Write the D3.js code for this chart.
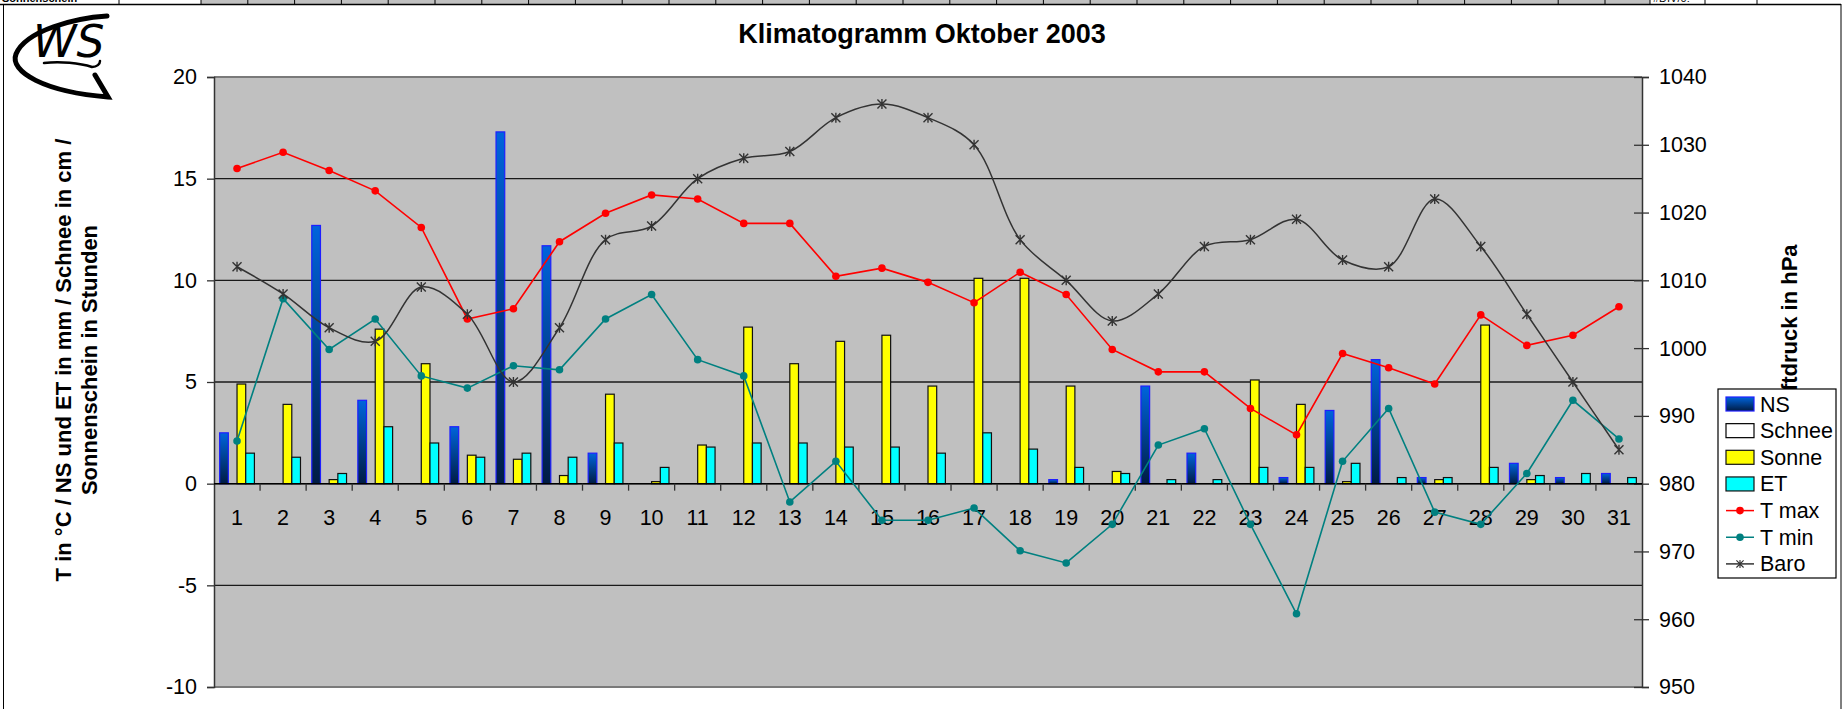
<!DOCTYPE html>
<html>
<head>
<meta charset="utf-8">
<script src="https://cdn.jsdelivr.net/npm/d3@7"></script>
<style>
body { margin: 0; background: #fff; overflow: hidden; }
svg { display: block; font-family: "Liberation Sans", Arial, sans-serif; }
</style>
</head>
<body>
<svg id="svg" width="1845" height="709"></svg>
<script>
// daily values, Oktober 2003
var days = [1,2,3,4,5,6,7,8,9,10,11,12,13,14,15,16,17,18,19,20,21,22,23,24,25,26,27,28,29,30,31];
var ns     = [2.5,0,12.7,4.1,0,2.8,17.3,11.7,1.5,0,0,0,0,0,0,0,0,0,0.2,0,4.8,1.5,0,0.3,3.6,6.1,0.3,0,1.0,0.3,0.5];
var schnee = [0,0,0,0,0,0,0,0,0,0,0,0,0,0,0,0,0,0,0,0,0,0,0,0,0,0,0,0,0,0,0];
var sonne  = [4.9,3.9,0.2,7.6,5.9,1.4,1.2,0.4,4.4,0.1,1.9,7.7,5.9,7.0,7.3,4.8,10.1,10.1,4.8,0.6,0,0,5.1,3.9,0.1,0,0.2,7.8,0.2,0,0];
var et     = [1.5,1.3,0.5,2.8,2.0,1.3,1.5,1.3,2.0,0.8,1.8,2.0,2.0,1.8,1.8,1.5,2.5,1.7,0.8,0.5,0.2,0.2,0.8,0.8,1.0,0.3,0.3,0.8,0.4,0.5,0.3];
var tmax   = [15.5,16.3,15.4,14.4,12.6,8.1,8.6,11.9,13.3,14.2,14.0,12.8,12.8,10.2,10.6,9.9,8.9,10.4,9.3,6.6,5.5,5.5,3.7,2.4,6.4,5.7,4.9,8.3,6.8,7.3,8.7];
var tmin   = [2.1,9.1,6.6,8.1,5.3,4.7,5.8,5.6,8.1,9.3,6.1,5.3,-0.9,1.1,-1.8,-1.8,-1.2,-3.3,-3.9,-2.0,1.9,2.7,-2.0,-6.4,1.1,3.7,-1.4,-2.0,0.5,4.1,2.2];
var baro   = [1012,1008,1003,1001,1009,1005,995,1003,1016,1018,1025,1028,1029,1034,1036,1034,1030,1016,1010,1004,1008,1015,1016,1019,1013,1012,1022,1015,1005,995,985];

var leftTicks = [-10,-5,0,5,10,15,20];
var rightTicks = [950,960,970,980,990,1000,1010,1020,1030,1040];
var barSeries = ['NS','Schnee','Sonne','ET'];

var svg = d3.select('svg');
var plotL = 214, plotR = 1642, plotT = 77, plotB = 687;
var fs = 21.5;
var plain = function(d){ return String(d); };   // keep "-5" and "1040" as in Excel

var x = d3.scaleBand().domain(days).range([plotL, plotR]).padding(0);
var xs = d3.scaleBand().domain(barSeries).range([0, x.bandwidth()]).paddingInner(0).paddingOuter(0.65);
var y = d3.scaleLinear().domain([-10, 20]).range([plotB, plotT]);
var y2 = d3.scaleLinear().domain([950, 1040]).range([plotB, plotT]);

var defs = svg.append('defs');
var grad = defs.append('linearGradient').attr('id','nsGrad').attr('x1',0).attr('y1',0).attr('x2',0).attr('y2',1);
grad.append('stop').attr('offset','0%').attr('stop-color','#0064dc');
grad.append('stop').attr('offset','100%').attr('stop-color','#001c44');
defs.append('clipPath').attr('id','strip').append('rect').attr('x',0).attr('y',0).attr('width',1845).attr('height',4);

// spreadsheet row peeking at the top
var strip = svg.append('g').attr('clip-path','url(#strip)');
strip.append('rect').attr('x',201).attr('y',0).attr('width',1449).attr('height',4).attr('fill','#c0c0c0');
d3.range(201, 1651, 46.8).forEach(function(cx){
    strip.append('line').attr('x1',cx).attr('x2',cx).attr('y1',0).attr('y2',4).attr('stroke','#000');
});
[119,1650,1705,1757].forEach(function(cx){
    strip.append('line').attr('x1',cx).attr('x2',cx).attr('y1',0).attr('y2',4).attr('stroke','#000');
});
strip.append('text').text('Sonnenschein').attr('x',2).attr('y',2).attr('font-size',11).attr('font-weight','bold');
strip.append('text').text('#DIV/0!').attr('x',1653).attr('y',2).attr('font-size',11);
svg.append('line').attr('x1',0).attr('x2',1841).attr('y1',4.5).attr('y2',4.5).attr('stroke','#000').attr('stroke-width',1.5);
svg.append('line').attr('x1',3.5).attr('x2',3.5).attr('y1',4).attr('y2',709).attr('stroke','#000');
svg.append('line').attr('x1',1841).attr('x2',1841).attr('y1',4).attr('y2',709).attr('stroke','#000');

// logo
var logo = svg.append('g').attr('fill','none').attr('stroke','#000').attr('stroke-linecap','round');
logo.append('path').attr('d','M107,16 C76,18 26,30 16,54 C9,72 45,92 108,97 L95,75').attr('stroke-width',5);
logo.append('path').attr('d','M44,63 C60,61 80,63 92,67 C97,67 100,64 100,61').attr('stroke-width',2.5);
logo.append('text').text('WS').attr('x',33).attr('y',57).attr('font-size',44).attr('fill','#000')
    .attr('stroke','none').attr('font-family','"DejaVu Sans"').attr('font-style','italic').attr('font-weight','300');

// plot background
svg.append('rect').attr('x',plotL).attr('y',plotT).attr('width',plotR-plotL).attr('height',plotB-plotT).attr('fill','#c0c0c0');

svg.selectAll('.grid').data(leftTicks.filter(function(d){return d > -10 && d < 20;}))
    .enter().append('line')
    .attr('x1',plotL).attr('x2',plotR)
    .attr('y1',function(d){return y(d);}).attr('y2',function(d){return y(d);})
    .attr('stroke','#1a1a1a').attr('stroke-width',1.4);
[plotT, plotB].forEach(function(py){
    svg.append('line').attr('x1',plotL).attr('x2',plotR).attr('y1',py).attr('y2',py).attr('stroke','#7a7a7a').attr('stroke-width',2);
});

// left axis
var yAxis = svg.append('g').attr('transform','translate(' + plotL + ',0)')
    .call(d3.axisLeft(y).tickValues(leftTicks).tickFormat(plain).tickSize(7).tickPadding(10));
yAxis.select('.domain').attr('stroke','#333').attr('stroke-width',1.5);
yAxis.selectAll('.tick line').attr('stroke','#333').attr('stroke-width',1.3);
yAxis.selectAll('text').attr('font-size',fs).attr('font-family','"Liberation Sans", Arial, sans-serif').attr('fill','#000');

// right axis
var y2Axis = svg.append('g').attr('transform','translate(' + plotR + ',0)')
    .call(d3.axisRight(y2).tickValues(rightTicks).tickFormat(plain).tickSize(7).tickPadding(10));
y2Axis.select('.domain').attr('stroke','#333').attr('stroke-width',1.5);
y2Axis.selectAll('.tick line').attr('x1',-8).attr('stroke','#333').attr('stroke-width',1.3);
y2Axis.selectAll('text').attr('font-size',fs).attr('font-family','"Liberation Sans", Arial, sans-serif').attr('fill','#000');

// bars
var barData = [];
days.forEach(function(d, i){
    barData.push({day:d, s:'NS', v:ns[i]});
    barData.push({day:d, s:'Schnee', v:schnee[i]});
    barData.push({day:d, s:'Sonne', v:sonne[i]});
    barData.push({day:d, s:'ET', v:et[i]});
});
var barFill = {NS:'url(#nsGrad)', Schnee:'#fff', Sonne:'#ffff00', ET:'#00ffff'};
var barStroke = {NS:'#1e1eff', Schnee:'#000', Sonne:'#111', ET:'#111'};

svg.selectAll('.bar').data(barData.filter(function(d){return d.v > 0;}))
    .enter().append('rect')
    .attr('x',function(d){return x(d.day) + xs(d.s);})
    .attr('y',function(d){return y(d.v);})
    .attr('width',xs.bandwidth())
    .attr('height',function(d){return y(0) - y(d.v);})
    .attr('fill',function(d){return barFill[d.s];})
    .attr('stroke',function(d){return barStroke[d.s];})
    .attr('stroke-width',1.2);

// category axis on the zero line
svg.append('line').attr('x1',plotL).attr('x2',plotR).attr('y1',y(0)).attr('y2',y(0)).attr('stroke','#000').attr('stroke-width',1.5);
svg.selectAll('.xtick').data(days.slice(0,-1))
    .enter().append('line')
    .attr('x1',function(d){return x(d) + x.bandwidth();})
    .attr('x2',function(d){return x(d) + x.bandwidth();})
    .attr('y1',y(0)).attr('y2',y(0) + 7)
    .attr('stroke','#333').attr('stroke-width',1.3);
svg.selectAll('.xlab').data(days)
    .enter().append('text')
    .text(function(d){return d;})
    .attr('x',function(d){return x(d) + x.bandwidth()/2;})
    .attr('y',y(0) + 41)
    .attr('text-anchor','middle')
    .attr('font-size',fs);

// lines
var xc = function(d, i){return x(days[i]) + x.bandwidth()/2;};
var lineT = d3.line().x(xc).y(function(d){return y(d);});
var lineB = d3.line().x(xc).y(function(d){return y2(d);}).curve(d3.curveCatmullRom.alpha(0.5));

svg.append('path').datum(tmax).attr('d',lineT).attr('fill','none').attr('stroke','#ff0000').attr('stroke-width',1.6);
svg.selectAll('.ptmax').data(tmax).enter().append('circle')
    .attr('cx',xc).attr('cy',function(d){return y(d);}).attr('r',3.8).attr('fill','#ff0000');

svg.append('path').datum(tmin).attr('d',lineT).attr('fill','none').attr('stroke','#008080').attr('stroke-width',1.6);
svg.selectAll('.ptmin').data(tmin).enter().append('circle')
    .attr('cx',xc).attr('cy',function(d){return y(d);}).attr('r',3.8).attr('fill','#008080');

var star = 'M0,-5V5M-4.5,-4.5L4.5,4.5M-4.5,4.5L4.5,-4.5';
svg.append('path').datum(baro).attr('d',lineB).attr('fill','none').attr('stroke','#333').attr('stroke-width',1.5);
svg.selectAll('.pbaro').data(baro).enter().append('path')
    .attr('d',star)
    .attr('transform',function(d, i){return 'translate(' + xc(d, i) + ',' + y2(d) + ')';})
    .attr('stroke','#333').attr('stroke-width',1.4).attr('fill','none');

// titles
svg.append('text').text('Klimatogramm Oktober 2003')
    .attr('x',922).attr('y',43).attr('text-anchor','middle')
    .attr('font-size',27).attr('font-weight','bold');

svg.append('text').text('T in °C / NS und ET in mm / Schnee in cm /')
    .attr('transform','translate(71,360) rotate(-90)')
    .attr('text-anchor','middle').attr('font-size',22).attr('font-weight','bold');
svg.append('text').text('Sonnenschein in Stunden')
    .attr('transform','translate(97,360) rotate(-90)')
    .attr('text-anchor','middle').attr('font-size',22).attr('font-weight','bold');

svg.append('text').text('Luftdruck in hPa')
    .attr('transform','translate(1797,418) rotate(-90)')
    .attr('text-anchor','start').attr('font-size',22).attr('font-weight','bold');

// legend
var legendNames = ['NS','Schnee','Sonne','ET','T max','T min','Baro'];
var legend = svg.append('g');
legend.append('rect').attr('x',1718).attr('y',389).attr('width',118).attr('height',189)
    .attr('fill','#fff').attr('stroke','#000').attr('stroke-width',1.2);
legendNames.forEach(function(name, i){
    var ly = 404 + i * 26.65;
    var g = legend.append('g').attr('transform','translate(0,' + ly + ')');
    if (i < 4) {
        g.append('rect').attr('x',1726).attr('y',-7).attr('width',28).attr('height',14)
            .attr('fill', name == 'NS' ? 'url(#nsGrad)' : barFill[name])
            .attr('stroke', barStroke[name]).attr('stroke-width',1.2);
    } else {
        var col = name == 'T max' ? '#ff0000' : (name == 'T min' ? '#008080' : '#333');
        g.append('line').attr('x1',1726).attr('x2',1754).attr('y1',0).attr('y2',0).attr('stroke',col).attr('stroke-width',1.5);
        if (name == 'Baro') {
            g.append('path').attr('d',star).attr('transform','translate(1740,0) scale(0.8)').attr('stroke',col).attr('stroke-width',1.4);
        } else {
            g.append('circle').attr('cx',1740).attr('cy',0).attr('r',3.8).attr('fill',col);
        }
    }
    g.append('text').text(name).attr('x',1760).attr('y',7.5).attr('font-size',fs);
});
</script>
</body>
</html>
